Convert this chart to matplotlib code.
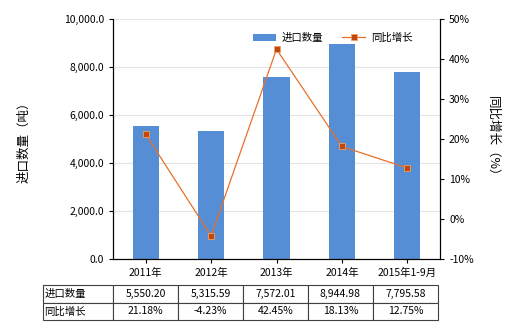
import numpy as np
import matplotlib.pyplot as plt
from matplotlib.ticker import FuncFormatter, MultipleLocator

plt.rcParams['font.family'] = ['Noto Sans CJK SC', 'DejaVu Sans']

# -------------------------
# Data
# -------------------------
categories = ["2011年", "2012年", "2013年", "2014年", "2015年1-9月"]
quantity = [5550.20, 5315.59, 7572.01, 8944.98, 7795.58]
growth = [21.18, -4.23, 42.45, 18.13, 12.75]
quantity_labels = ["5,550.20", "5,315.59", "7,572.01", "8,944.98", "7,795.58"]
growth_labels = ["21.18%", "-4.23%", "42.45%", "18.13%", "12.75%"]

bar_color = "#558ED5"
line_color = "#E8702A"
marker_color = "#C0480E"
fs = 7.5

fig = plt.figure(figsize=(5.2, 3.3), dpi=100)
ax = fig.add_axes([113 / 520, 1 - 259 / 330, 327 / 520, 240 / 330])
x = np.arange(len(categories))

ax.bar(x, quantity, width=0.4, color=bar_color, label="进口数量", zorder=2)
ax.set_xlim(-0.5, len(categories) - 0.5)
ax.set_ylim(0, 10000)
ax.yaxis.set_major_locator(MultipleLocator(2000))
ax.yaxis.set_major_formatter(FuncFormatter(lambda v, p: f"{v:,.1f}"))
ax.grid(axis="y", color="#e4e4e4", linewidth=0.8, zorder=0)
ax.set_axisbelow(True)
ax.set_xticks(x)
ax.set_xticklabels(categories, fontsize=fs)
ax.tick_params(axis="both", labelsize=fs, length=3, width=0.8, direction="out")
ax.set_ylabel("进口数量（吨）", fontsize=9, labelpad=24)
ax.spines["top"].set_visible(False)

ax2 = ax.twinx()
ax2.plot(x, growth, color=line_color, linewidth=0.9, marker="s", markersize=4,
         markerfacecolor=marker_color, markeredgecolor="#F0A060", markeredgewidth=0.6,
         label="同比增长", zorder=3)
ax2.set_ylim(-10, 50)
ax2.yaxis.set_major_locator(MultipleLocator(10))
ax2.yaxis.set_major_formatter(FuncFormatter(lambda v, p: f"{v:.0f}%"))
ax2.tick_params(axis="y", labelsize=fs, length=3, width=0.8, direction="out")
ax2.set_ylabel("同比增长（%）", fontsize=9, rotation=270, labelpad=18)
ax2.spines["top"].set_visible(False)

# legend
h1, l1 = ax.get_legend_handles_labels()
h2, l2 = ax2.get_legend_handles_labels()
ax2.legend(h1 + h2, l1 + l2, loc="upper right", bbox_to_anchor=(0.93, 0.96), ncol=2,
           frameon=False, fontsize=fs, handlelength=2.2, columnspacing=1.8,
           handletextpad=0.6, borderaxespad=0)

# -------------------------
# Data table below
# -------------------------
cell_text = [["进口数量"] + quantity_labels, ["同比增长"] + growth_labels]
x0 = (43 - 113) / 327
tbl = ax.table(cellText=cell_text, cellLoc="center",
               colWidths=[70 / 395] + [65 / 395] * 5,
               bbox=[x0, (259 - 320) / 240, 395 / 327, 35 / 240])
tbl.auto_set_font_size(False)
tbl.set_fontsize(fs)
for (r, c), cell in tbl.get_celld().items():
    cell.set_edgecolor("#404040")
    cell.set_linewidth(0.8)
    if c == 0:
        cell.set_text_props(ha="left")
        cell.PAD = 0.02

fig.savefig("out.png", dpi=100)
